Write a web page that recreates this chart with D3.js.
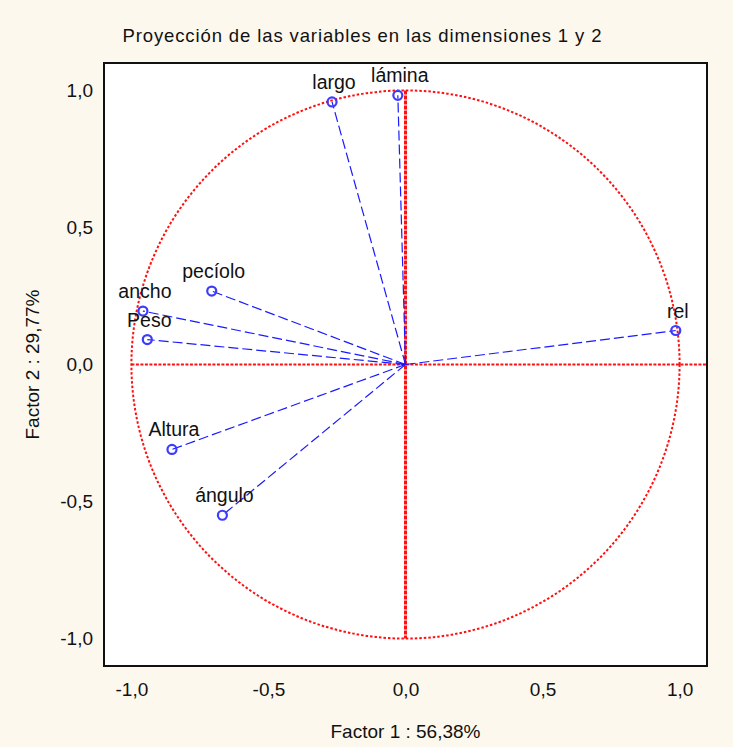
<!DOCTYPE html>
<html>
<head>
<meta charset="utf-8">
<script src="https://cdn.jsdelivr.net/npm/d3@7"></script>
<style>
  body { margin: 0; background: #fcf8ee; }
  text { font-family: "Liberation Sans", Arial, sans-serif; fill: #111; }
</style>
</head>
<body>
<svg id="chart"></svg>
<script>
// variables and their coordinates on the first two factors
const variables = ["largo", "lámina", "pecíolo", "ancho", "Peso", "rel", "Altura", "ángulo"];
const factor1 = [-0.268, -0.028, -0.707, -0.958, -0.942, 0.986, -0.852, -0.668];
const factor2 = [0.958, 0.982, 0.268, 0.195, 0.091, 0.124, -0.310, -0.550];
const tickValues = [-1, -0.5, 0, 0.5, 1];

const width = 733, height = 747;
const plotLeft = 104, plotRight = 707, plotTop = 63, plotBottom = 666;

const svg = d3.select("#chart").attr("width", width).attr("height", height);

const x = d3.scaleLinear().domain([-1.1, 1.1]).range([plotLeft, plotRight]);
const y = d3.scaleLinear().domain([-1.1, 1.1]).range([plotBottom, plotTop]);

const es = d3.formatLocale({ decimal: ",", thousands: ".", grouping: [3], currency: ["", "€"], minus: "-" });
const fmt = es.format(".1f");

// plot background
svg.append("rect")
  .attr("x", plotLeft).attr("y", plotTop)
  .attr("width", plotRight - plotLeft).attr("height", plotBottom - plotTop)
  .attr("fill", "#fff");

// unit circle
svg.append("circle")
  .attr("cx", x(0)).attr("cy", y(0))
  .attr("r", x(1) - x(0))
  .attr("fill", "none")
  .attr("stroke", "#ff1010")
  .attr("stroke-width", 2)
  .attr("stroke-dasharray", "2.5,2");

// reference axes
svg.append("line")
  .attr("x1", x(-1)).attr("x2", x(1.1))
  .attr("y1", y(0)).attr("y2", y(0))
  .attr("stroke", "#ff1010").attr("stroke-width", 2)
  .attr("stroke-dasharray", "3,1.5");
svg.append("line")
  .attr("x1", x(0)).attr("x2", x(0))
  .attr("y1", y(1)).attr("y2", y(-1))
  .attr("stroke", "#ff1010").attr("stroke-width", 3)
  .attr("stroke-dasharray", "4,1");

const pts = variables.map((v, i) => ({ name: v, f1: factor1[i], f2: factor2[i] }));

// vectors from origin
svg.selectAll(".vec")
  .data(pts)
  .enter()
  .append("line")
  .attr("class", "vec")
  .attr("x1", x(0)).attr("y1", y(0))
  .attr("x2", d => x(d.f1)).attr("y2", d => y(d.f2))
  .attr("stroke", "#1a1aff")
  .attr("stroke-width", 1.2)
  .attr("stroke-dasharray", "10,4");

svg.selectAll(".pt")
  .data(pts)
  .enter()
  .append("circle")
  .attr("class", "pt")
  .attr("cx", d => x(d.f1)).attr("cy", d => y(d.f2))
  .attr("r", 4.5)
  .attr("fill", "none")
  .attr("stroke", "#3c3cff")
  .attr("stroke-width", 2.2);

svg.selectAll(".lbl")
  .data(pts)
  .enter()
  .append("text")
  .attr("class", "lbl")
  .attr("x", d => x(d.f1) + 2)
  .attr("y", d => y(d.f2) - 13)
  .attr("text-anchor", "middle")
  .style("font-size", "19.5px")
  .text(d => d.name);

// frame
svg.append("rect")
  .attr("x", plotLeft).attr("y", plotTop)
  .attr("width", plotRight - plotLeft).attr("height", plotBottom - plotTop)
  .attr("fill", "none")
  .attr("stroke", "#111")
  .attr("stroke-width", 2);

// axes
const xAxis = svg.append("g")
  .attr("transform", `translate(0,${plotBottom})`)
  .call(d3.axisBottom(x).tickValues(tickValues).tickFormat(fmt).tickSize(0).tickPadding(17));
const yAxis = svg.append("g")
  .attr("transform", `translate(${plotLeft},0)`)
  .call(d3.axisLeft(y).tickValues(tickValues).tickFormat(fmt).tickSize(0).tickPadding(11));
[xAxis, yAxis].forEach(g => {
  g.select(".domain").remove();
  g.selectAll("text").style("font-size", "19px").attr("fill", "#111")
    .style("font-family", '"Liberation Sans", Arial, sans-serif');
});

// titles
svg.append("text")
  .attr("x", 362).attr("y", 42)
  .attr("text-anchor", "middle")
  .attr("textLength", 479)
  .attr("lengthAdjust", "spacing")
  .style("font-size", "18.5px")
  .text("Proyección de las variables en las dimensiones 1 y 2");

svg.append("text")
  .attr("x", x(0)).attr("y", 738)
  .attr("text-anchor", "middle")
  .style("font-size", "19px")
  .text("Factor 1 : 56,38%");

svg.append("text")
  .attr("transform", `translate(39,${y(0)}) rotate(-90)`)
  .attr("text-anchor", "middle")
  .style("font-size", "19px")
  .text("Factor 2 : 29,77%");
</script>
</body>
</html>
